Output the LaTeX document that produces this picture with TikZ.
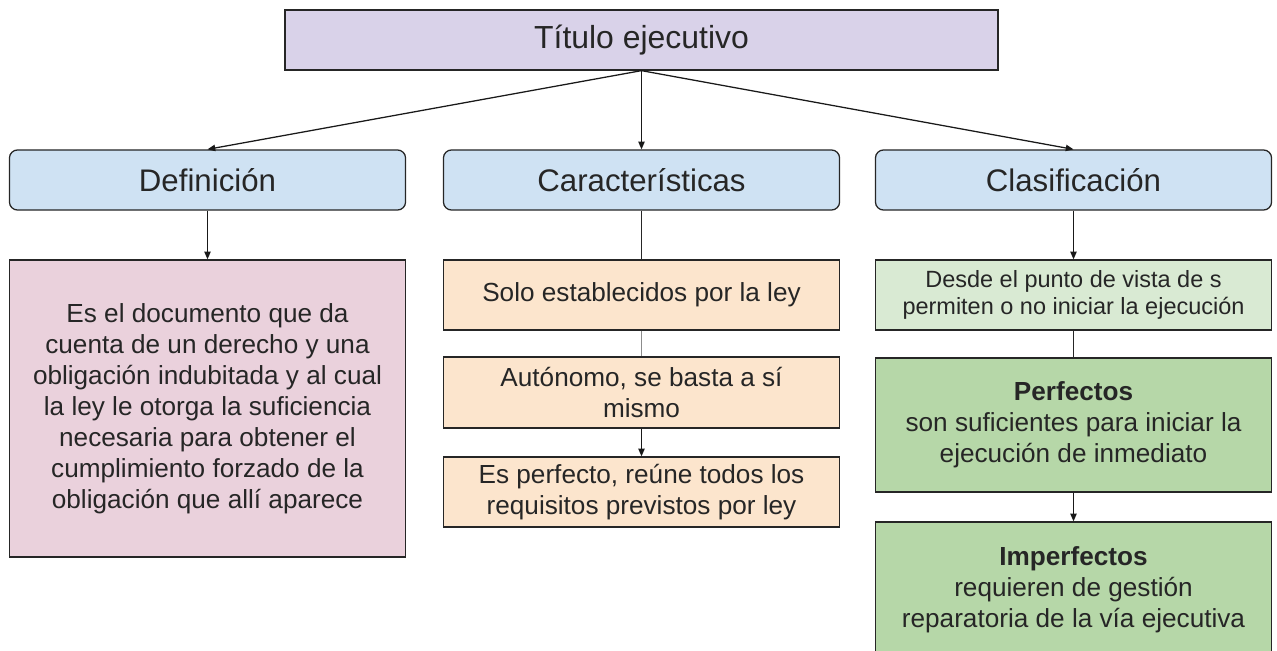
\documentclass[tikz,border=0pt]{standalone}
\usepackage{fontspec}
\setmainfont{Liberation Sans}
\usepackage{tikz}
\usetikzlibrary{arrows.meta,positioning}
\usepackage{xcolor}
\definecolor{tituloLila}{HTML}{D9D2E9}
\definecolor{rotuloAzul}{HTML}{CFE2F3}
\definecolor{defRosa}{HTML}{EAD1DC}
\definecolor{caracNaranja}{HTML}{FCE5CD}
\definecolor{clasVerdeClaro}{HTML}{D9EAD3}
\definecolor{clasVerde}{HTML}{B6D7A8}

\begin{document}
\begin{tikzpicture}[x=0.025cm, y=-0.025cm,
        caja/.style={draw=black!85, line width=0.9pt, align=center, inner sep=0pt, text=black!85},
        rotulo/.style={caja, fill=rotuloAzul, rounded corners=0.2cm, minimum width=9.9cm, minimum height=1.5cm, font=\fontsize{22.2}{26}\selectfont},
        texto/.style={caja, minimum width=9.9cm, font=\fontsize{18.6}{22}\selectfont},
        flecha/.style={-{Triangle[length=5.5pt,width=4.5pt]}, line width=0.9pt, black!90},
        linea/.style={line width=0.9pt, black!85}]
        \clip (0,0) rectangle (1277,651);

        \node[caja, fill=tituloLila, minimum width=17.825cm, minimum height=1.5cm, font=\fontsize{22.7}{26}\selectfont] (titulo) at (641.5,40) {Título ejecutivo};

        \node[rotulo] (defin) at (207.5,180) {Definición};
        \node[rotulo] (caract) at (641.5,180) {Características};
        \node[rotulo] (clasif) at (1073.5,180) {Clasificación};

        \draw[flecha] (titulo.south) -- (defin.north);
        \draw[flecha] (titulo.south) -- (caract.north);
        \draw[flecha] (titulo.south) -- (clasif.north);

        % definicion
        \node[texto, fill=defRosa, minimum height=7.425cm] (defTexto) at (207.5,408.5)
            {Es el documento que da\\cuenta de un derecho y una\\obligación indubitada y al cual\\la ley le otorga la suficiencia\\necesaria para obtener el\\cumplimiento forzado de la\\obligación que allí aparece};
        \draw[flecha] (defin) -- (defTexto);

        % caracteristicas
        \node[texto, fill=caracNaranja, minimum height=1.75cm] (car1) at (641.5,295) {Solo establecidos por la ley};
        \node[texto, fill=caracNaranja, minimum height=1.775cm] (car2) at (641.5,392.5) {Autónomo, se basta a sí\\mismo};
        \node[texto, fill=caracNaranja, minimum height=1.75cm] (car3) at (641.5,492) {Es perfecto, reúne todos los\\requisitos previstos por ley};
        \draw[linea] (caract) -- (car1);
        \draw[linea, black!45] (car1) -- (car2);
        \draw[flecha] (car2) -- (car3);

        % clasificacion
        \node[texto, fill=clasVerdeClaro, minimum height=1.75cm, font=\fontsize{16.7}{19.2}\selectfont] (cla1) at (1073.5,295) {Desde el punto de vista de s\\permiten o no iniciar la ejecución};
        \node[texto, fill=clasVerde, minimum height=3.35cm] (cla2) at (1073.5,425) {\textbf{Perfectos}\\son suficientes para iniciar la\\ejecución de inmediato};
        \node[texto, fill=clasVerde, minimum height=3.4cm] (cla3) at (1073.5,590) {\textbf{Imperfectos}\\requieren de gestión\\reparatoria de la vía ejecutiva};
        \draw[flecha] (clasif) -- (cla1);
        \draw[linea] (cla1) -- (cla2);
        \draw[flecha] (cla2) -- (cla3);
    \end{tikzpicture}
\end{document}
